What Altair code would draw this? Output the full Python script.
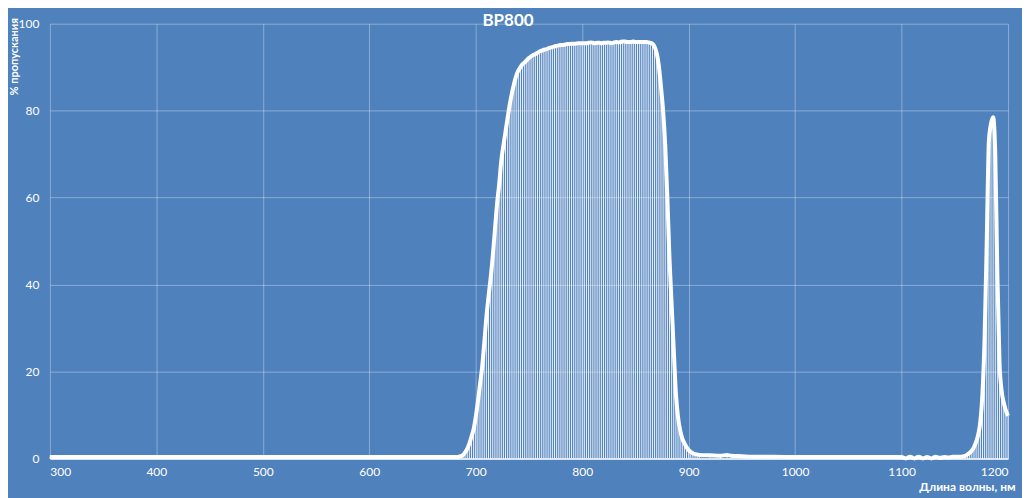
import altair as alt
import pandas as pd

# Wavelength (nm) and transmission (%)
nm = [300, 350, 400, 450, 500, 550, 600, 650, 670,
      680, 682, 684, 686, 688, 690, 692, 694, 696, 698,
      700, 702, 704, 706, 708, 710, 712, 714, 716, 718,
      720, 722, 724, 726, 728, 730, 732, 734, 736, 738,
      740, 742, 744, 746, 748, 750, 752, 754, 756, 758,
      760, 762, 764, 766, 768, 770, 772, 774, 776, 778,
      780, 782, 784, 786, 788, 790, 792, 794, 796, 798,
      800, 802, 804, 806, 808, 810, 812, 814, 816, 818,
      820, 822, 824, 826, 828, 830, 832, 834, 836, 838,
      840, 842, 844, 846, 848, 850, 852, 854, 856, 858,
      860, 862, 864, 866, 868, 870, 872, 874, 876, 878,
      880, 882, 884, 886, 888, 890, 892, 894, 896, 898,
      900, 902, 904, 906, 908, 910,
      920, 930, 936, 940, 950, 960, 980, 1000, 1020, 1040, 1060, 1080,
      1100, 1104, 1108, 1112, 1116, 1120, 1124, 1128, 1132, 1136, 1140, 1144, 1148, 1152,
      1156, 1158, 1160, 1162, 1164, 1166, 1168, 1170, 1172, 1174, 1176, 1178,
      1180, 1182, 1184, 1186, 1188, 1190, 1192, 1194, 1196, 1198, 1200]

transmission = [0.3, 0.3, 0.3, 0.3, 0.3, 0.3, 0.3, 0.3, 0.3,
                0.3, 0.3, 0.4, 0.5, 0.8, 1.4, 2.2, 3.4, 5.0, 6.7,
                9.5, 13.0, 17.0, 21.0, 26.5, 32.5, 37.2, 41.5, 46.5, 52.5,
                58.5, 63.0, 68.5, 72.0, 75.2, 78.4, 81.5, 84.0, 86.2, 88.0,
                89.2, 90.0, 90.7, 91.1, 91.6, 92.1, 92.5, 92.8, 93.0, 93.3,
                93.6, 93.8, 94.0, 94.1, 94.3, 94.5, 94.6, 94.8, 94.9, 95.0,
                95.1, 95.1, 95.2, 95.3, 95.3, 95.4, 95.4, 95.4, 95.5, 95.5,
                95.5, 95.5, 95.5, 95.6, 95.7, 95.6, 95.5, 95.6, 95.6, 95.5,
                95.6, 95.6, 95.7, 95.6, 95.5, 95.7, 95.8, 95.7, 95.8, 95.9,
                95.9, 95.8, 95.8, 95.8, 95.9, 95.8, 95.8, 95.8, 95.8, 95.8,
                95.8, 95.7, 95.6, 95.4, 94.7, 93.2, 90.3, 85.5, 80.0, 72.0,
                60.0, 46.0, 35.5, 25.0, 15.0, 9.5, 6.5, 4.6, 3.5, 2.6,
                1.9, 1.5, 1.2, 1.0, 0.9, 0.8,
                0.7, 0.6, 0.8, 0.6, 0.5, 0.4, 0.4, 0.3, 0.3, 0.3, 0.3, 0.3,
                0.3, 0.0, 0.4, 0.0, 0.4, 0.0, 0.3, 0.0, 0.4, 0.1, 0.3, 0.2, 0.4, 0.4,
                0.4, 0.5, 0.6, 0.9, 1.3, 1.8, 2.6, 3.8, 5.5, 8.5, 15.0, 28.0,
                50.0, 73.0, 77.0, 78.5, 70.0, 42.0, 22.0, 15.5, 12.8, 11.0, 9.8]

x_ticks = [300, 400, 500, 600, 700, 800, 900, 1000, 1100, 1200]
y_ticks = [0, 20, 40, 60, 80, 100]

df = pd.DataFrame({"nm": nm, "t": transmission})

FONT = "Lato"
BG = "#4F81BD"

x_enc = alt.X(
    "nm:Q",
    scale=alt.Scale(domain=[300, 1200], nice=False, zero=False),
    axis=alt.Axis(
        values=x_ticks, format="d", title="Длина волны, нм",
        domain=True, domainColor="white", domainWidth=1.5,
        ticks=False, labelPadding=8, labelColor="white", labelFont=FONT, labelFontSize=12,
        grid=True, gridColor="white", gridOpacity=0.35, gridWidth=1,
        titleFont=FONT, titleFontSize=12, titleFontWeight="bold", titleColor="white",
        titleX=968, titleY=28, titleAlign="right", titleBaseline="middle",
    ),
)
y_enc = alt.Y(
    "t:Q",
    scale=alt.Scale(domain=[0, 100], nice=False),
    axis=alt.Axis(
        values=y_ticks, format="d", title="% пропускания",
        domain=False, ticks=False, labelPadding=11, labelColor="white", labelFont=FONT, labelFontSize=12,
        grid=True, gridColor="white", gridOpacity=0.35, gridWidth=1,
        titleFont=FONT, titleFontSize=11, titleFontWeight="bold", titleColor="white",
        titleAngle=270, titleAlign="right", titleBaseline="middle", titleX=-35, titleY=-6,
    ),
)

drops = alt.Chart(df).mark_rule(color="white", strokeWidth=1, opacity=0.9).encode(
    x=x_enc, y=y_enc, y2=alt.datum(0)
)
line = alt.Chart(df).mark_line(color="white", strokeWidth=4, interpolate="monotone").encode(
    x=x_enc, y=y_enc
)

chart = alt.layer(drops, line).properties(
    width=961, height=436, background=BG,
    padding={"left": 42, "top": 15, "right": 14, "bottom": 39},
    autosize="none",
    title=alt.TitleParams("BP800", font=FONT, fontSize=17, fontWeight="bold", color="white",
                          anchor="middle", dx=-21, offset=-12),
).configure_view(stroke=None)

chart.save("out.html", embed_options={"renderer": "svg", "actions": False})
